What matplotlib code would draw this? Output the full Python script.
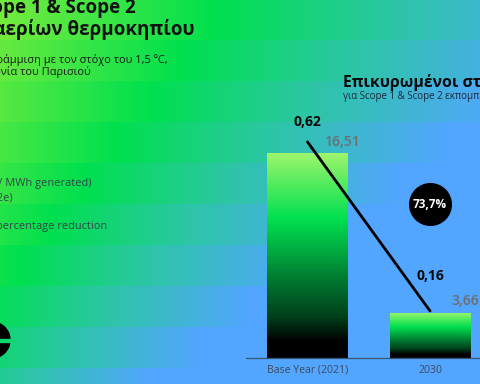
import numpy as np
import matplotlib
matplotlib.use("Agg")
from matplotlib import pyplot as plt
from matplotlib.colors import LinearSegmentedColormap, to_rgb

plt.rcParams['font.family'] = ['Open Sans', 'DejaVu Sans']

# ---------------- data ----------------
categories = ["Base Year (2021)", "2030"]
absolute_emissions = [16.51, 3.66]      # bars
carbon_intensity = [0.62, 0.16]         # line
reduction_label = "73,7%"

bar_labels = ["16,51", "3,66"]
line_labels = ["0,62", "0,16"]

title_lines = ["Στόχοι μείωσης Scope 1 & Scope 2", "εκπομπών αερίων θερμοκηπίου"]
subtitle_lines = ["Στόχοι σε ευθυγράμμιση με τον στόχο του 1,5 ºC,",
                  "σύμφωνα με τη Συμφωνία του Παρισιού"]
legend_lines = ["Carbon intensity (tCO2e / MWh generated)",
                "Absolute emissions (ktCO2e)",
                "Target percentage reduction"]
chart_title = "Επικυρωμένοι στόχοι"
chart_subtitle = "για Scope 1 & Scope 2 εκπομπές"

W, H = 480, 384
fig = plt.figure(figsize=(W / 100, H / 100), dpi=100)

# ---------------- banded gradient background ----------------
lime, green, teal, blue = [np.array(to_rgb(c)) for c in
                           ("#7cec3c", "#00e04e", "#2cc6a4", "#52a6ff")]
stops_t = [-0.6, 0.0, 0.45, 1.0]
xs = np.arange(W)
bg = np.zeros((H, W, 3))
for y in range(H):
    k = (y + 1) // 41
    g = 215 - 33 * k
    b = 600 - 50 * k
    t = (xs - g) / (b - g)
    for c in range(3):
        bg[y, :, c] = np.interp(t, stops_t, [lime[c], green[c], teal[c], blue[c]])

bg_ax = fig.add_axes([0, 0, 1, 1], zorder=-10)
bg_ax.imshow(bg, aspect='auto', extent=(0, W, H, 0))
bg_ax.set_xlim(0, W)
bg_ax.set_ylim(H, 0)
bg_ax.axis('off')

# logo fragment bottom-left
bg_ax.add_patch(plt.Circle((-8, 340), 18, color="black"))
bg_ax.add_patch(plt.Rectangle((-30, 339), 42, 3, color="#10d870"))


def px(x, y):
    return x / W, 1 - y / H


# ---------------- left texts ----------------
fig.text(*px(136, 13), title_lines[0], ha='right', va='baseline',
         fontsize=13.5, fontweight='bold', color='#111111')
fig.text(*px(195, 34.5), title_lines[1], ha='right', va='baseline',
         fontsize=13.5, fontweight='bold', color='#111111')
fig.text(*px(168, 63.5), subtitle_lines[0], ha='right', va='baseline',
         fontsize=7.9, color='#1a1a1a')
fig.text(*px(91, 74.5), subtitle_lines[1], ha='right', va='baseline',
         fontsize=7.9, color='#1a1a1a')
for txt, (rx, by) in zip(legend_lines, [(92, 186), (13, 201), (107, 229)]):
    fig.text(*px(rx, by), txt, ha='right', va='baseline', fontsize=7.9,
             color='#34474a')

fig.text(*px(343, 87), chart_title, ha='left', va='baseline',
         fontsize=11.3, fontweight='bold', color='#0a0a0a')
fig.text(*px(343, 99), chart_subtitle, ha='left', va='baseline',
         fontsize=7, color='#1a2a3a')

# ---------------- chart ----------------
ax = fig.add_axes([246 / W, (H - 358) / H, 234 / W, 258 / H])
ax.patch.set_alpha(0)
x = np.arange(len(categories))
bars = ax.bar(x, absolute_emissions, width=0.66, color='none')
ax.set_xlim(-0.502, 1.408)
ax.set_ylim(0, 20.78)

bar_cmap = LinearSegmentedColormap.from_list(
    "bar", [(0.0, "#9ef56c"), (0.32, "#00e050"), (0.64, "#00722e"),
            (0.8, "#00401a"), (0.92, "#000000"), (1.0, "#000000")])
grad = np.linspace(0, 1, 256).reshape(-1, 1)
for rect in bars:
    x0, w, h = rect.get_x(), rect.get_width(), rect.get_height()
    im = ax.imshow(grad, cmap=bar_cmap, aspect='auto',
                   extent=(x0, x0 + w, 0, h), origin='upper', zorder=2)
    im.set_clip_path(rect)

for xi, val, lab in zip(x, absolute_emissions, bar_labels):
    ax.annotate(lab, (xi + 0.29, val), xytext=(0, 3), textcoords='offset points',
                ha='center', va='bottom', fontsize=10, fontweight='semibold',
                color='#6e6e6e', annotation_clip=False)

ax.scatter([1.0], [12.4], s=900, color='black', zorder=3)
ax.text(1.0, 12.4, reduction_label, ha='center', va='center', color='white',
        fontsize=8.5, fontweight='bold', zorder=4)

ax.set_xticks(x)
ax.set_xticklabels(categories, fontsize=7.6, color='#3d4a5c')
ax.tick_params(axis='x', length=0, pad=5)
ax.set_yticks([])
for s in ('top', 'right', 'left'):
    ax.spines[s].set_visible(False)
ax.spines['bottom'].set_color('#3b5575')
ax.spines['bottom'].set_linewidth(0.9)

ax2 = ax.twinx()
ax2.plot(x, carbon_intensity, color='black', linewidth=2.0,
         solid_capstyle='round', zorder=5)
ax2.set_ylim(0.032, 0.734)
ax2.set_yticks([])
for s in ax2.spines.values():
    s.set_visible(False)
for xi, val, lab, dy in zip(x, carbon_intensity, line_labels, [9, 20]):
    ax2.annotate(lab, (xi, val), xytext=(0, dy), textcoords='offset points',
                 ha='center', va='bottom', fontsize=10, fontweight='bold',
                 color='#0a0a0a', annotation_clip=False)

fig.savefig("out.png", dpi=100)
